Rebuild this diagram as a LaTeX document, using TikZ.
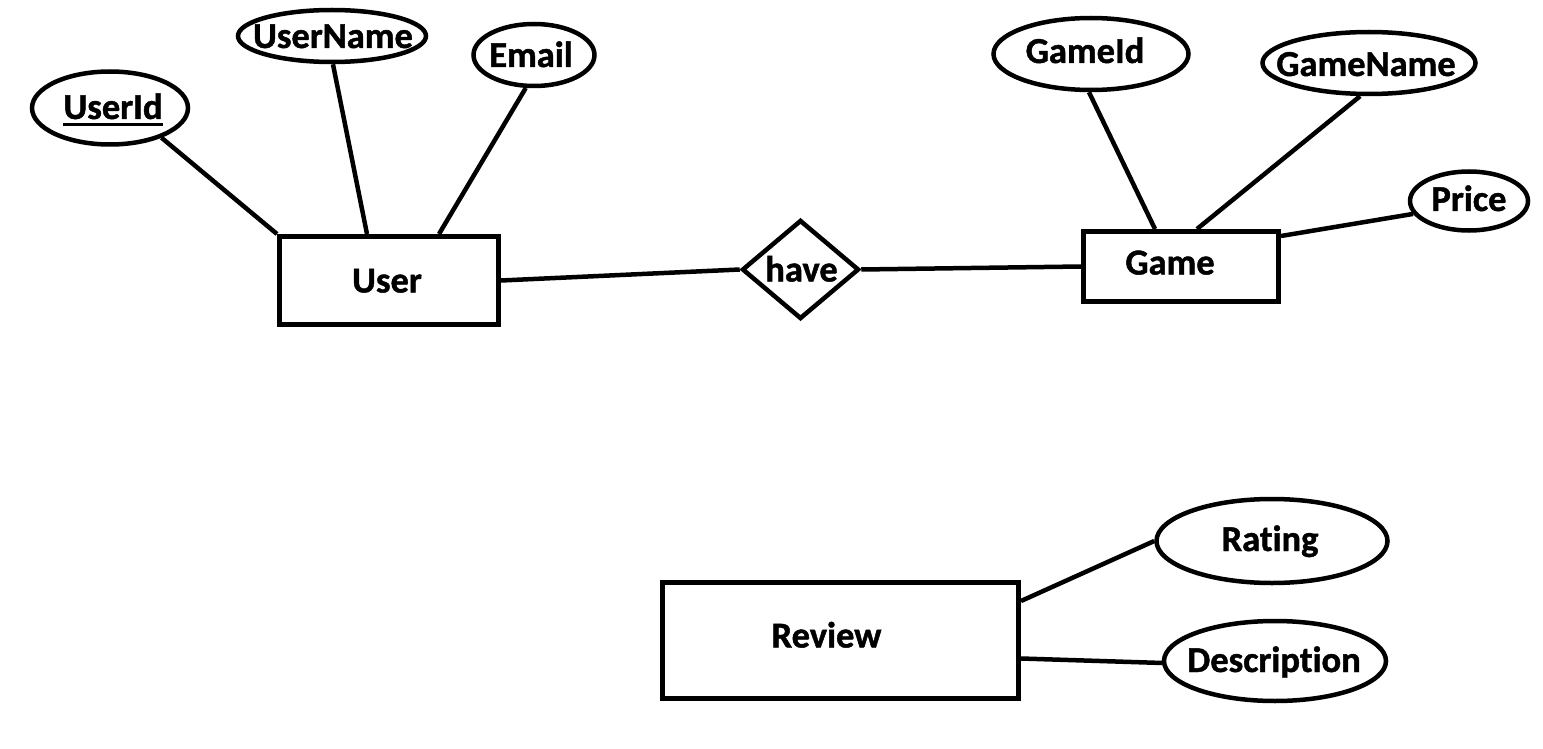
\documentclass[tikz,border=0pt]{standalone}
\usepackage{fontspec}
\setmainfont{Carlito}[Ligatures=NoCommon, BoldFeatures={FakeBold=1.2}]
\usetikzlibrary{shapes.geometric}
\newcommand\erkeyline[1]{\setbox0=\hbox{#1}\hbox to \wd0{\rlap{\rule[-7pt]{\wd0}{3pt}}\box0}}
\begin{document}
\begin{tikzpicture}[x=1pt,y=-1pt,
  lbl/.style={font=\fontsize{36.5pt}{40pt}\selectfont\bfseries, inner sep=0pt, text height=24pt, text depth=0pt},
  attr/.style={draw, line width=4.5pt, ellipse, inner sep=0pt},
  entity/.style={draw, line width=5pt, rectangle, inner sep=0pt},
  rel/.style={draw, line width=4.5pt, diamond, inner sep=0pt},
  conn/.style={line width=4.5pt}]
\useasboundingbox (0,0) rectangle (1543,749);
\fill[white] (0,0) rectangle (1543,749);

% entities
\node[entity, minimum width=219pt, minimum height=88pt,
  label={[lbl,xshift=-2pt]center:User}] (user) at (389,280.5) {};
\node[entity, minimum width=195pt, minimum height=70pt,
  label={[lbl,xshift=-11pt,yshift=4pt]center:Game}] (game) at (1181,266.5) {};
\node[entity, minimum width=356pt, minimum height=116pt,
  label={[lbl,xshift=-14pt,yshift=5pt]center:Review}] (review) at (840.5,640.5) {};

% relationship
\node[rel, minimum width=117pt, minimum height=99pt, aspect=1.18,
  label={[lbl,xshift=1pt]center:have}] (have) at (800.5,269.5) {};

% attributes
\node[attr, minimum width=156pt, minimum height=73pt,
  label={[lbl,xshift=3pt,yshift=1pt]center:\erkeyline{UserId}}] (uid) at (110,108) {};
\node[attr, minimum width=188pt, minimum height=52pt,
  label={[lbl,xshift=1pt]center:UserName}] (uname) at (332,36) {};
\node[attr, minimum width=121pt, minimum height=62pt,
  label={[lbl,xshift=-3pt]center:Email}] (email) at (534,55) {};
\node[attr, minimum width=195pt, minimum height=72pt,
  label={[lbl,xshift=-6pt,yshift=3pt]center:GameId}] (gid) at (1091,54) {};
\node[attr, minimum width=213pt, minimum height=62pt,
  label={[lbl,xshift=-3pt,yshift=-1pt]center:GameName}] (gname) at (1369,63) {};
\node[attr, minimum width=118pt, minimum height=59pt,
  label={[lbl,yshift=2pt]center:Price}] (price) at (1469,201) {};
\node[attr, minimum width=231pt, minimum height=84pt,
  label={[lbl,xshift=-2pt,yshift=2pt]center:Rating}] (rating) at (1272,541) {};
\node[attr, minimum width=222pt, minimum height=80pt,
  label={[lbl,xshift=-1pt,yshift=1pt]center:Description}] (desc) at (1275,661) {};

% connectors
\draw[conn] (uid.-30) -- (user.north west);
\draw[conn] (uname.-88) -- ([xshift=-22pt]user.north);
\draw[conn] (email.-104) -- ([xshift=50pt]user.north);
\draw[conn] (user.east) -- (have.west);
\draw[conn] (have.east) -- (game.west);
\draw[conn] (gid.-93) -- ([xshift=-26pt]game.north);
\draw[conn] (gname.-105) -- ([xshift=16pt]game.north);
\draw[conn] (price.-167) -- ([yshift=-7pt]game.north east);
\draw[conn] (rating.180) -- ([yshift=-21pt]review.north east);
\draw[conn] (desc.181) -- ([yshift=-18pt]review.east);
\end{tikzpicture}
\end{document}
